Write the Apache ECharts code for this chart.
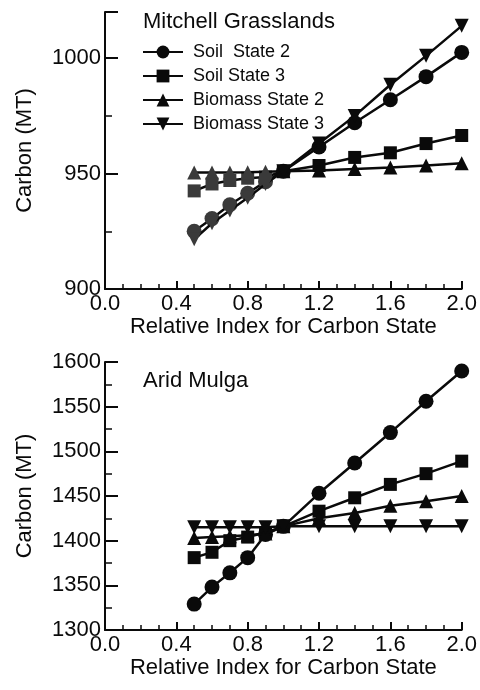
<!DOCTYPE html>
<html>
<head>
<meta charset="utf-8">
<script src="https://cdn.jsdelivr.net/npm/echarts@6/dist/echarts.min.js"></script>
<style>html,body{margin:0;padding:0;background:#fff}#c{width:480px;height:690px}</style>
</head>
<body>
<div id="c"></div>
<script>
var xValues = [0.5, 0.6, 0.7, 0.8, 0.9, 1.0, 1.2, 1.4, 1.6, 1.8, 2.0];
var seriesNames = ['Soil  State 2', 'Soil State 3', 'Biomass State 2', 'Biomass State 3'];
var panelTitles = ['Mitchell Grasslands', 'Arid Mulga'];
var xTickLabels = ['0.0', '0.4', '0.8', '1.2', '1.6', '2.0'];
var yAxisName = 'Carbon (MT)';
var xAxisName = 'Relative Index for Carbon State';

// Mitchell Grasslands
var mgSoil2    = [925, 930.5, 936.5, 941.5, 946.5, 951, 961.5, 972, 982, 992, 1002.5];
var mgSoil3    = [942.5, 945.5, 947, 948, 948.5, 951, 953.5, 957, 959, 963, 966.5];
var mgBiomass2 = [950.5, 950.5, 950.5, 950.6, 950.8, 951, 951.3, 952, 952.6, 953.5, 954.5];
var mgBiomass3 = [921.5, 928.5, 934, 939.5, 945.5, 951, 963, 975, 988.5, 1001, 1014];

// Arid Mulga
var amSoil2    = [1329, 1348, 1364, 1381, 1407, 1416, 1453, 1487, 1521, 1556, 1590];
var amSoil3    = [1381, 1387, 1400, 1404, 1409, 1416, 1433, 1448, 1463, 1475, 1489];
var amBiomass2 = [1403, 1404, 1405, 1406, 1408, 1416, 1425, 1431, 1439, 1444, 1450];
var amBiomass3 = [1415, 1415, 1415, 1415, 1415, 1416, 1416, 1416, 1416, 1416, 1416];

var symbols = ['circle', 'rect', 'triangle', 'path://M0,0L20,0L10,17Z'];
var symbolSizes = [15, 13, 14, 14];
var FONT = 'Liberation Sans, Arial, sans-serif';
var INK = '#0a0a0a';
var GREY = '#3a3a3a';

function pairs(ys, greyLeft) {
  return xValues.map(function (x, i) {
    var p = { value: [x, ys[i]] };
    if (greyLeft && x < 0.95) p.itemStyle = { color: GREY };
    return p;
  });
}

function mkSeries(name, ys, idx, k) {
  return {
    name: name, type: 'line', xAxisIndex: idx, yAxisIndex: idx,
    data: pairs(ys, idx === 0), symbol: symbols[k], symbolSize: symbolSizes[k],
    showAllSymbol: true,
    lineStyle: { color: INK, width: 2.5 },
    itemStyle: { color: INK, borderWidth: 0 },
    emphasis: { disabled: true }, animation: false, z: 3 + k
  };
}

function xAx(idx) {
  return {
    gridIndex: idx, type: 'value', min: 0, max: 2, interval: 0.4,
    name: xAxisName, nameLocation: 'middle', nameGap: 27,
    nameTextStyle: { fontFamily: FONT, fontSize: 22, color: INK },
    axisLine: { show: true, lineStyle: { color: INK, width: 2 } },
    axisTick: { show: true, inside: true, length: 8, lineStyle: { color: INK, width: 2 } },
    minorTick: { show: true, splitNumber: 4, length: 5, lineStyle: { color: INK, width: 1.5 } },
    splitLine: { show: false },
    axisLabel: { fontFamily: FONT, fontSize: 22, color: INK, margin: 4,
      formatter: function (v) { var s = v.toFixed(1); return xTickLabels.indexOf(s) >= 0 ? s : ''; } }
  };
}

function yAx(idx, min, max) {
  return {
    gridIndex: idx, type: 'value', min: min, max: max, interval: 50,
    name: yAxisName, nameLocation: 'middle', nameGap: 69,
    nameTextStyle: { fontFamily: FONT, fontSize: 22, color: INK },
    axisLine: { show: true, lineStyle: { color: INK, width: 2 } },
    axisTick: { show: true, inside: true, length: 13, lineStyle: { color: INK, width: 2 } },
    minorTick: { show: true, splitNumber: 2, length: 7, lineStyle: { color: INK, width: 1.5 } },
    splitLine: { show: false },
    axisLabel: { fontFamily: FONT, fontSize: 22, color: INK, margin: 4,
      formatter: function (v) { return v % 50 === 0 ? String(v) : ''; } }
  };
}

var chart = echarts.init(document.getElementById('c'), null, { renderer: 'canvas' });
var allSeries = [];
[mgSoil2, mgSoil3, mgBiomass2, mgBiomass3].forEach(function (ys, k) { allSeries.push(mkSeries(seriesNames[k], ys, 0, k)); });
[amSoil2, amSoil3, amBiomass2, amBiomass3].forEach(function (ys, k) { allSeries.push(mkSeries(seriesNames[k], ys, 1, k)); });

chart.setOption({
  backgroundColor: '#fff',
  animation: false,
  title: [
    { text: panelTitles[0], left: 143, top: 11, padding: 0, textStyle: { fontFamily: FONT, fontSize: 22, fontWeight: 'normal', color: INK } },
    { text: panelTitles[1], left: 143, top: 370, padding: 0, textStyle: { fontFamily: FONT, fontSize: 22, fontWeight: 'normal', color: INK } }
  ],
  legend: {
    data: seriesNames, orient: 'vertical', left: 142, top: 43, padding: 0,
    itemWidth: 40, itemHeight: 16, itemGap: 6, selectedMode: false,
    textStyle: { fontFamily: FONT, fontSize: 18, color: INK, padding: [0, 0, 0, 5] },
    inactiveColor: INK
  },
  grid: [
    { left: 105, top: 12, width: 358, height: 277 },
    { left: 105, top: 362, width: 358, height: 268 }
  ],
  xAxis: [xAx(0), xAx(1)],
  yAxis: [yAx(0, 900, 1020), yAx(1, 1300, 1600)],
  series: allSeries
});
</script>
</body>
</html>
